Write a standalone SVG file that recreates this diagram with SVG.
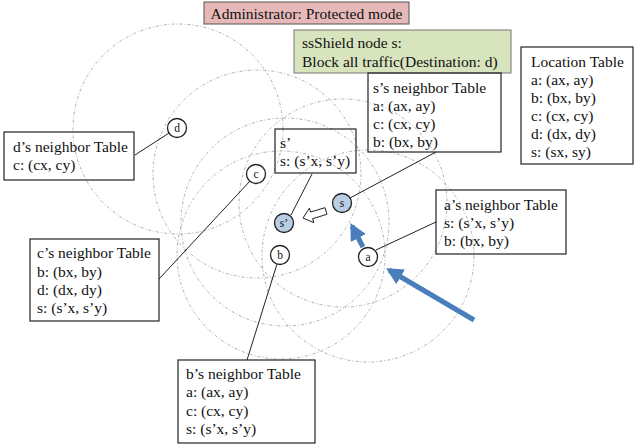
<svg xmlns="http://www.w3.org/2000/svg" width="637" height="448" viewBox="0 0 637 448">
<style>
text{font-family:"Liberation Serif","Times New Roman",serif;font-size:15.5px;fill:#111}
.range{fill:none;stroke:#b0b0b0;stroke-width:1;stroke-dasharray:3 2 1 2}
.box{fill:none;stroke:#222;stroke-width:1.2}
.node{fill:#fff;stroke:#222;stroke-width:1.3}
.blue{fill:#b9cde5}
.nl{font-size:11.5px;text-anchor:middle}
.link{stroke:#222;stroke-width:1;fill:none}
.flow{stroke:#4a7ebb;stroke-width:5;fill:none}
</style>
<defs>
<marker id="bh" viewBox="0 0 10 10" refX="8" refY="5" markerWidth="3.4" markerHeight="3.4" orient="auto" markerUnits="strokeWidth">
<path d="M0,0 L10,5 L0,10 Z" fill="#4a7ebb"/>
</marker>
</defs>
<g id="ranges">
<circle class="range" cx="178" cy="129" r="105"/>
<circle class="range" cx="257" cy="174" r="104"/>
<circle class="range" cx="285" cy="222" r="104"/>
<circle class="range" cx="343" cy="203" r="104"/>
<circle class="range" cx="281" cy="255" r="104"/>
<circle class="range" cx="368" cy="256" r="106"/>
</g>
<g id="connectors">
<line class="link" x1="135" y1="155" x2="169" y2="133"/>
<line class="link" x1="159" y1="279" x2="250" y2="181"/>
<line class="link" x1="312" y1="174" x2="291" y2="215"/>
<line class="link" x1="350" y1="198" x2="436" y2="152"/>
<line class="link" x1="376" y1="250" x2="436" y2="222"/>
<line class="link" x1="277" y1="264" x2="247" y2="360"/>
<line class="flow" x1="474" y1="320" x2="389" y2="270" marker-end="url(#bh)"/>
<line class="flow" x1="363" y1="247" x2="352" y2="226" marker-end="url(#bh)"/>
<path d="M325,207.7 L310.6,212 L309.4,208.2 L303,218 L313.8,222.6 L312.6,218.7 L327,214.3 Z" fill="#fff" stroke="#222" stroke-width="1"/>
</g>
<g id="admin">
<rect x="204" y="2" width="205" height="22" fill="#e6b9b8" stroke="#555" stroke-width="1"/>
<text x="306.5" y="18.5" text-anchor="middle">Administrator: Protected mode</text>
</g>
<g id="ssshield">
<rect x="294" y="30" width="217" height="43" fill="#d7e4bd" stroke="#777" stroke-width="1"/>
<text x="302" y="48">ssShield node s:</text>
<text x="302" y="67">Block all traffic(Destination: d)</text>
</g>
<g id="s-table">
<rect class="box" x="368" y="73" width="133" height="79"/>
<text x="373" y="93">s’s neighbor Table</text>
<text x="373" y="111">a: (ax, ay)</text>
<text x="373" y="129">c: (cx, cy)</text>
<text x="373" y="147">b: (bx, by)</text>
</g>
<g id="location-table">
<rect class="box" x="521" y="47" width="112" height="117"/>
<text x="531" y="67">Location Table</text>
<text x="531" y="85">a: (ax, ay)</text>
<text x="531" y="103">b: (bx, by)</text>
<text x="531" y="121">c: (cx, cy)</text>
<text x="531" y="139">d: (dx, dy)</text>
<text x="531" y="157">s: (sx, sy)</text>
</g>
<g id="d-table">
<rect class="box" x="4" y="132" width="130" height="48"/>
<text x="13" y="152">d’s neighbor Table</text>
<text x="13" y="170">c: (cx, cy)</text>
</g>
<g id="sprime-table">
<rect class="box" x="275" y="129" width="81" height="44"/>
<text x="280" y="148">s’</text>
<text x="280" y="166">s: (s’x, s’y)</text>
</g>
<g id="a-table">
<rect class="box" x="436" y="190" width="130" height="64"/>
<text x="444" y="210">a’s neighbor Table</text>
<text x="444" y="228">s: (s’x, s’y)</text>
<text x="444" y="246">b: (bx, by)</text>
</g>
<g id="c-table">
<rect class="box" x="30" y="239" width="129" height="82"/>
<text x="37" y="258">c’s neighbor Table</text>
<text x="37" y="277">b: (bx, by)</text>
<text x="37" y="295">d: (dx, dy)</text>
<text x="37" y="313">s: (s’x, s’y)</text>
</g>
<g id="b-table">
<rect class="box" x="178" y="360" width="137" height="83"/>
<text x="186" y="379">b’s neighbor Table</text>
<text x="186" y="397">a: (ax, ay)</text>
<text x="186" y="416">c: (cx, cy)</text>
<text x="186" y="434">s: (s’x, s’y)</text>
</g>
<g id="node-d"><circle class="node" cx="177" cy="128" r="9.5"/><text class="nl" x="177" y="132">d</text></g>
<g id="node-c"><circle class="node" cx="256" cy="174" r="9.5"/><text class="nl" x="256" y="178">c</text></g>
<g id="node-sprime"><circle class="node blue" cx="284" cy="223" r="9.5"/><text class="nl" x="284" y="227">s’</text></g>
<g id="node-s"><circle class="node blue" cx="342" cy="203" r="9.5"/><text class="nl" x="342" y="207">s</text></g>
<g id="node-b"><circle class="node" cx="280" cy="255" r="9.5"/><text class="nl" x="280" y="259">b</text></g>
<g id="node-a"><circle class="node" cx="368" cy="257" r="9.5"/><text class="nl" x="368" y="261">a</text></g>
</svg>
